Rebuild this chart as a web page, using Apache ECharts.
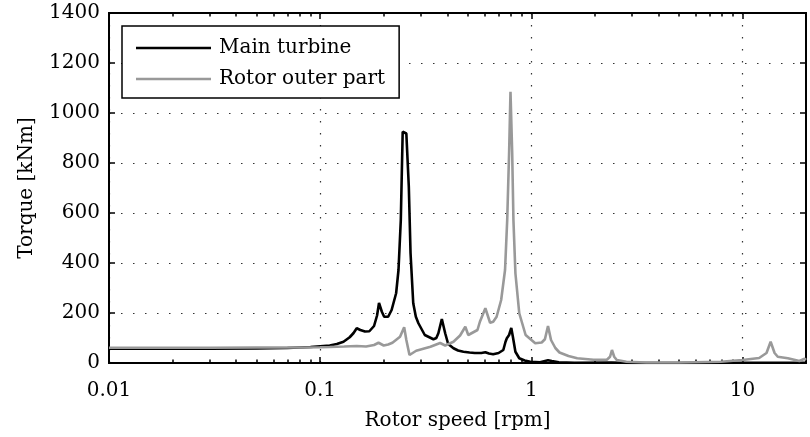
<!DOCTYPE html>
<html>
<head>
<meta charset="utf-8">
<script src="https://cdn.jsdelivr.net/npm/echarts@6/dist/echarts.min.js"></script>
<style>
  html, body { margin: 0; padding: 0; background: #fff; }
  #chart { width: 810px; height: 437px; }
</style>
</head>
<body>
<div id="chart"></div>
<script>
// Torque response over rotor speed (log speed axis)
const speedMain = [0.01, 0.02, 0.03, 0.05, 0.07, 0.09, 0.1, 0.111, 0.12, 0.129, 0.138, 0.144, 0.149, 0.155, 0.163, 0.171, 0.18, 0.186, 0.19, 0.196, 0.201, 0.21, 0.218, 0.229, 0.235, 0.241, 0.246, 0.256, 0.263, 0.268, 0.276, 0.284, 0.292, 0.313, 0.344, 0.355, 0.363, 0.377, 0.391, 0.404, 0.428, 0.45, 0.477, 0.51, 0.54, 0.58, 0.606, 0.63, 0.66, 0.7, 0.737, 0.755, 0.766, 0.785, 0.804, 0.818, 0.841, 0.877, 0.93, 0.99, 1.1, 1.2, 1.25, 1.35, 1.6, 2.4, 3, 5, 10, 20];
const torqueMain = [57, 57, 57, 58, 60, 64, 67, 70, 76, 85, 103, 120, 139, 132, 126, 127, 148, 190, 240, 205, 185, 185, 212, 279, 372, 572, 925, 918, 705, 439, 239, 185, 159, 112, 95, 100, 119, 176, 119, 76, 59, 50, 45, 42, 40, 40, 43, 38, 35, 40, 52, 85, 99, 112, 140, 105, 45, 19, 10, 5, 3, 11, 8, 3, 1, 2, 0, 0, 1, 1];

const speedOuter = [0.01, 0.03, 0.05, 0.08, 0.1, 0.111, 0.13, 0.149, 0.165, 0.18, 0.189, 0.2, 0.21, 0.22, 0.239, 0.25, 0.256, 0.265, 0.285, 0.333, 0.37, 0.391, 0.428, 0.46, 0.487, 0.503, 0.514, 0.556, 0.571, 0.606, 0.638, 0.66, 0.685, 0.72, 0.751, 0.769, 0.785, 0.797, 0.812, 0.823, 0.841, 0.877, 0.94, 1.044, 1.12, 1.16, 1.2, 1.24, 1.3, 1.36, 1.5, 1.65, 1.97, 2.28, 2.36, 2.41, 2.47, 2.54, 2.82, 3.5, 5, 7.9, 10, 12, 13, 13.6, 14.2, 14.7, 16.4, 18.6, 19.7, 20];
const torqueOuter = [61, 61, 62, 62, 63, 64, 66, 68, 66, 72, 81, 70, 74, 81, 105, 143, 92, 32, 49, 65, 80, 70, 85, 110, 145, 112, 112, 132, 165, 219, 161, 165, 185, 252, 372, 572, 839, 1085, 839, 572, 359, 199, 112, 79, 82, 95, 148, 92, 60, 42, 28, 19, 13, 13, 25, 52, 25, 12, 5, 2, 2, 5, 12, 20, 40, 85, 40, 25, 19, 8, 17, 12];

const xMajorTicks = [0.01, 0.1, 1, 10];
const xMinorTicks = [0.02, 0.03, 0.04, 0.05, 0.06, 0.07, 0.08, 0.09,
                     0.2, 0.3, 0.4, 0.5, 0.6, 0.7, 0.8, 0.9,
                     2, 3, 4, 5, 6, 7, 8, 9, 20];
const seriesNames = ['Main turbine', 'Rotor outer part'];
const seriesColors = ['#000', '#999'];

const FONT = 'DejaVu Serif';
const X_MIN = 0.01, X_MAX = 20;

const chart = echarts.init(document.getElementById('chart'), null, { renderer: 'canvas' });

const dotted = { color: '#333', width: 1.2, type: [1.5, 10.5] };
const frame = { show: true, lineStyle: { color: '#000', width: 2 } };

function logAxis(position, opts) {
  return Object.assign({
    type: 'log', logBase: 10, min: X_MIN, max: X_MAX, position: position,
    axisLine: frame,
    axisLabel: { show: false },
    splitLine: { show: false },
    axisTick: { show: false },
    axisPointer: { show: false }
  }, opts);
}

const option = {
  animation: false,
  backgroundColor: '#fff',
  textStyle: { fontFamily: FONT },
  grid: { left: 109, right: 4, top: 13, bottom: 74, containLabel: false },
  legend: {
    orient: 'vertical',
    left: 122, top: 26,
    data: seriesNames.map(n => ({ name: n, icon: 'rect' })),
    backgroundColor: '#fff',
    borderColor: '#000', borderWidth: 1.5, borderRadius: 0,
    padding: [12, 14, 9, 14],
    itemWidth: 75, itemHeight: 2.6, itemGap: 11,
    textStyle: { fontFamily: FONT, fontSize: 20, color: '#000', padding: [0, 0, 0, 3] }
  },
  xAxis: [
    logAxis('bottom', {
      name: 'Rotor speed [rpm]', nameLocation: 'middle', nameGap: 48,
      nameTextStyle: { fontFamily: FONT, fontSize: 20, color: '#000' },
      axisLabel: { show: true, customValues: xMajorTicks, margin: 18,
                   fontFamily: FONT, fontSize: 20, color: '#000',
                   formatter: v => String(v) },
      axisTick: { show: true, inside: true, length: 6, customValues: xMajorTicks,
                  lineStyle: { color: '#000', width: 1.5 } },
      splitLine: { show: true, lineStyle: dotted }
    }),
    logAxis('bottom', {
      axisTick: { show: true, inside: true, length: 3.5, customValues: xMinorTicks,
                  lineStyle: { color: '#000', width: 1.5 } }
    }),
    logAxis('top', {
      axisTick: { show: true, inside: true, length: 6, customValues: xMajorTicks,
                  lineStyle: { color: '#000', width: 1.5 } }
    }),
    logAxis('top', {
      axisTick: { show: true, inside: true, length: 3.5, customValues: xMinorTicks,
                  lineStyle: { color: '#000', width: 1.5 } }
    })
  ],
  yAxis: [
    {
      type: 'value', min: 0, max: 1400, interval: 200, position: 'left',
      name: 'Torque [kNm]', nameLocation: 'middle', nameGap: 72, nameRotate: 90,
      nameTextStyle: { fontFamily: FONT, fontSize: 20, color: '#000' },
      axisLine: frame,
      axisLabel: { fontFamily: FONT, fontSize: 20, color: '#000', margin: 9,
                   formatter: v => String(v) },
      axisTick: { show: true, inside: true, length: 6, lineStyle: { color: '#000', width: 1.5 } },
      splitLine: { show: true, lineStyle: dotted }
    },
    {
      type: 'value', min: 0, max: 1400, interval: 200, position: 'right',
      axisLine: frame,
      axisLabel: { show: false },
      axisTick: { show: true, inside: true, length: 6, lineStyle: { color: '#000', width: 1.5 } },
      splitLine: { show: false }
    }
  ],
  series: [
    {
      name: seriesNames[0], type: 'line', xAxisIndex: 0, yAxisIndex: 0,
      symbol: 'none', smooth: false,
      lineStyle: { color: seriesColors[0], width: 2.6 },
      itemStyle: { color: seriesColors[0] },
      data: speedMain.map((s, i) => [s, torqueMain[i]])
    },
    {
      name: seriesNames[1], type: 'line', xAxisIndex: 0, yAxisIndex: 0,
      symbol: 'none', smooth: false,
      lineStyle: { color: seriesColors[1], width: 2.6 },
      itemStyle: { color: seriesColors[1] },
      data: speedOuter.map((s, i) => [s, torqueOuter[i]])
    }
  ]
};

chart.setOption(option);
</script>
</body>
</html>
